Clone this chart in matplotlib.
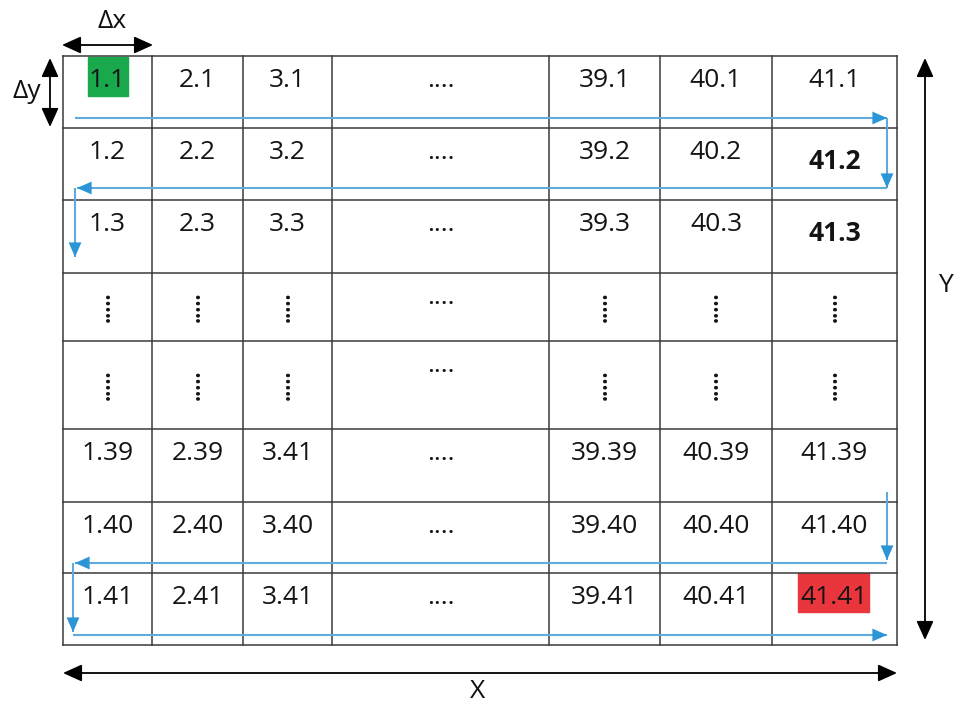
import matplotlib
matplotlib.use("Agg")
import matplotlib.pyplot as plt
from matplotlib.patches import Rectangle, FancyArrowPatch, ArrowStyle

# ---------------- data ----------------
cells = [
    ["1.1", "2.1", "3.1", "....", "39.1", "40.1", "41.1"],
    ["1.2", "2.2", "3.2", "....", "39.2", "40.2", "41.2"],
    ["1.3", "2.3", "3.3", "....", "39.3", "40.3", "41.3"],
    ["⋮", "⋮", "⋮", "....", "⋮", "⋮", "⋮"],
    ["⋮", "⋮", "⋮", "....", "⋮", "⋮", "⋮"],
    ["1.39", "2.39", "3.41", "....", "39.39", "40.39", "41.39"],
    ["1.40", "2.40", "3.40", "....", "39.40", "40.40", "41.40"],
    ["1.41", "2.41", "3.41", "....", "39.41", "40.41", "41.41"],
]
bold_cells = ["41.2", "41.3"]
start_cell = "1.1"
end_cell = "41.41"
dim_labels = ["Δx", "Δy", "X", "Y"]

# ---------------- layout (pixels) ----------------
W, H = 956, 708
col_edges = [63, 152, 243, 332, 549, 660, 772, 897]
row_edges = [56, 128, 200, 273, 341, 429, 502, 573, 645]

FONT = ["Open Sans", "DejaVu Sans"]
FS = 19
GRID_C = "#3a3a3a"
BLUE_LINE = "#62abdc"
BLUE_HEAD = "#2b95d5"
TXT_C = "#141414"

fig = plt.figure(figsize=(W / 100, H / 100), dpi=100)
ax = fig.add_axes([0, 0, 1, 1])
ax.set_xlim(0, W)
ax.set_ylim(H, 0)
ax.axis("off")

# grid
for x in col_edges:
    ax.plot([x, x], [row_edges[0], row_edges[-1]], color=GRID_C, lw=1.1, zorder=2)
for y in row_edges:
    ax.plot([col_edges[0], col_edges[-1]], [y, y], color=GRID_C, lw=1.1, zorder=2)

# cell texts (start / end cells get a coloured highlight box)
for r, row in enumerate(cells):
    top, bot = row_edges[r], row_edges[r + 1]
    for c, txt in enumerate(row):
        cx = (col_edges[c] + col_edges[c + 1]) / 2
        if txt == "⋮":
            ax.text(cx + 2, (top + bot) / 2, ".....", rotation=90,
                    rotation_mode="anchor", ha="center", va="baseline",
                    fontsize=15, fontweight="bold", family=FONT, color=TXT_C,
                    zorder=3)
            continue
        weight = "bold" if txt in bold_cells else "normal"
        base = top + (41 if txt in bold_cells else 31)
        ax.text(cx, base, txt, ha="center", va="baseline", fontsize=FS,
                fontweight=weight, family=FONT, color=TXT_C, zorder=3)
        if txt == start_cell:
            ax.add_patch(Rectangle((cx - 19.5, top + 1), 40, 39, color="#19a84c", zorder=1))
        elif txt == end_cell:
            ax.add_patch(Rectangle((cx - 36, top), 71, 39, color="#e8363c", zorder=1))


def arrow(p0, p1, color, style, lw, hl, hw, z=4):
    a = FancyArrowPatch(p0, p1, arrowstyle=ArrowStyle(style, head_length=hl, head_width=hw),
                        mutation_scale=1, color=color, lw=lw, shrinkA=0, shrinkB=0,
                        zorder=z)
    ax.add_patch(a)


# blue scanning path
L, R = col_edges[0] + 12, col_edges[-1] - 10
segments = [
    ((L, row_edges[1] - 10), (R, row_edges[1] - 10)),
    ((R, row_edges[1] - 10), (R, row_edges[2] - 12)),
    ((R, row_edges[2] - 12), (L + 2, row_edges[2] - 12)),
    ((L, row_edges[2] - 12), (L, row_edges[3] - 16)),
    ((R, row_edges[6] - 10), (R, row_edges[7] - 13)),
    ((R, row_edges[7] - 10), (L, row_edges[7] - 10)),
    ((L - 2, row_edges[7] - 10), (L - 2, row_edges[8] - 13)),
    ((L - 2, row_edges[8] - 10), (R, row_edges[8] - 10)),
]
for p0, p1 in segments:
    ax.plot([p0[0], p1[0]], [p0[1], p1[1]], color=BLUE_LINE, lw=1.5, zorder=4,
            solid_capstyle="butt")
    arrow(p0, p1, BLUE_HEAD, "-|>", 0.01, 10.5, 4.6, z=5)

# black dimension arrows
arrow((col_edges[0] - 1, 45), (col_edges[1] + 1, 45), "black", "<|-|>", 1.3, 11.5, 5.2)
arrow((50, row_edges[0] + 2), (50, row_edges[1] - 1), "black", "<|-|>", 1.3, 11.5, 5.2)
arrow((925, row_edges[0] + 2), (925, row_edges[-1] - 5), "black", "<|-|>", 1.3, 11.5, 5.2)
arrow((col_edges[0], 673), (col_edges[-1], 673), "black", "<|-|>", 1.3, 11.5, 5.2)

DFS = 19
ax.text(112, 22, dim_labels[0], ha="center", va="center", fontsize=DFS, family=FONT, color="#111")
ax.text(27, 92, dim_labels[1], ha="center", va="center", fontsize=DFS, family=FONT, color="#111")
ax.text(478, 692, dim_labels[2], ha="center", va="center", fontsize=DFS, family=FONT, color="#111")
ax.text(945, 285, dim_labels[3], ha="center", va="center", fontsize=DFS, family=FONT, color="#111")

fig.savefig("out.png", dpi=100, facecolor="white")
